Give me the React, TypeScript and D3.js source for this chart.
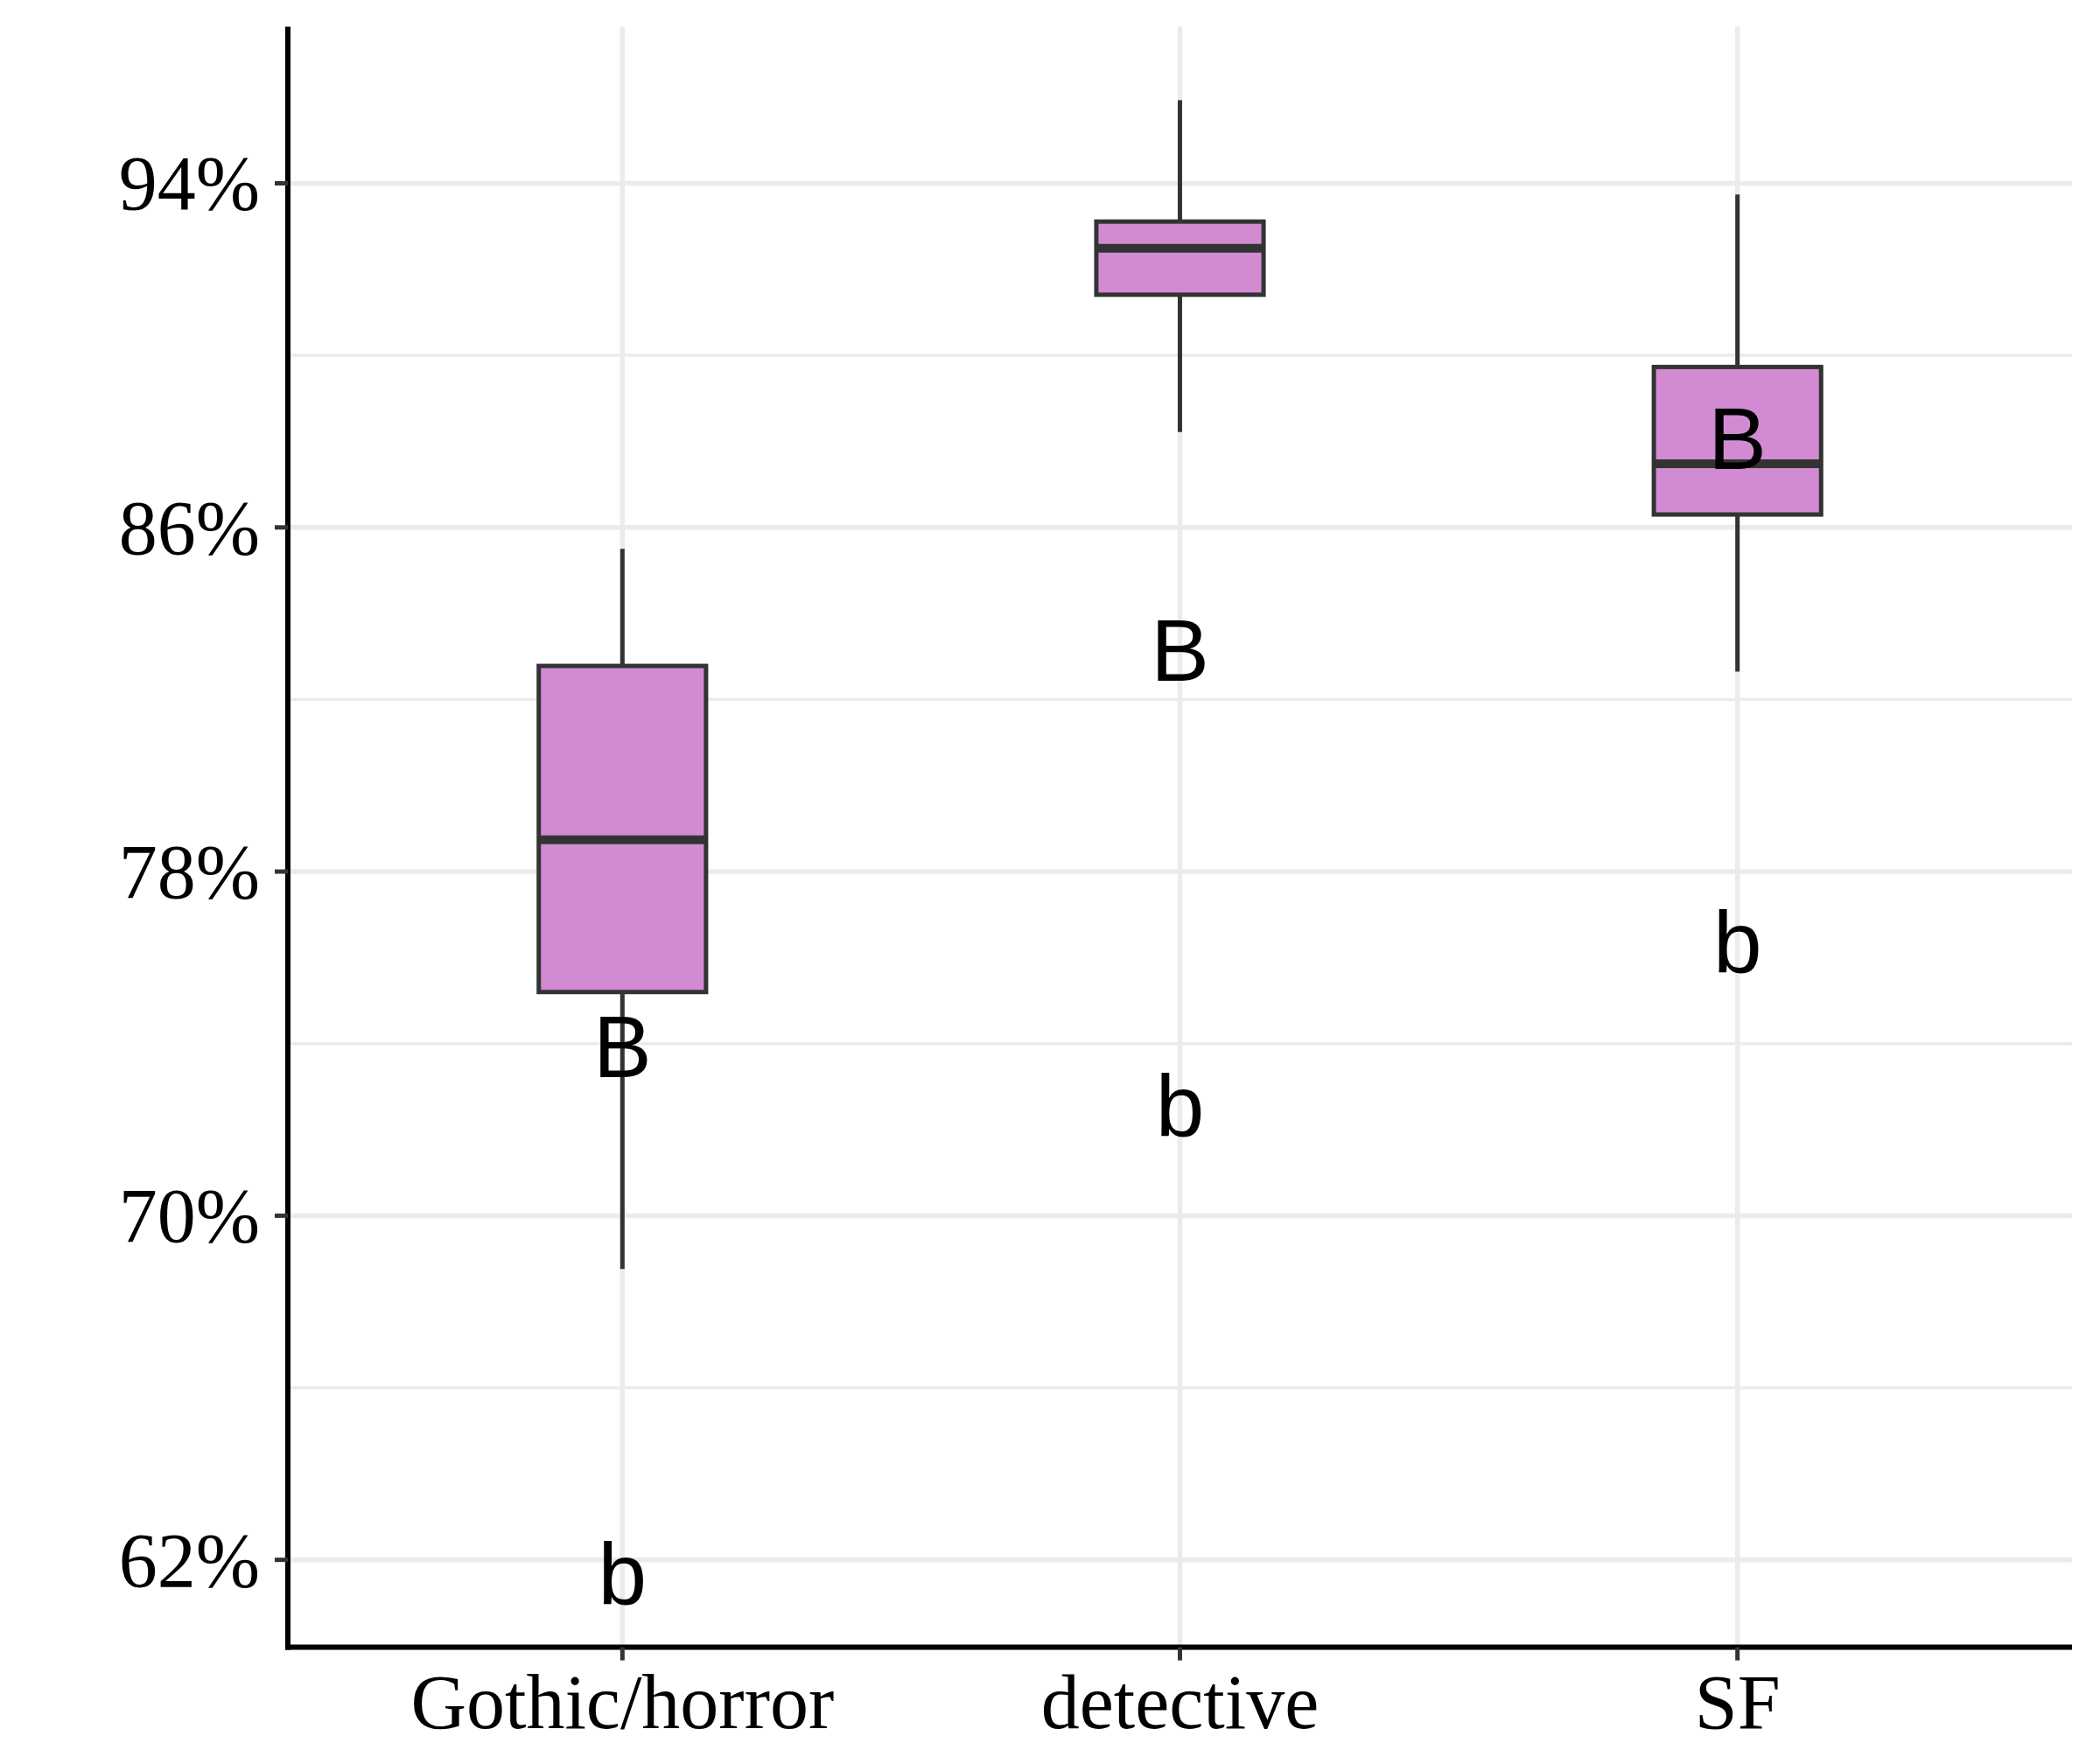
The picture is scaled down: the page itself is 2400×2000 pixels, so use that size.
import React from "react";
import * as d3 from "d3";

const categories = ["Gothic/horror", "detective", "SF"];
const whiskerLow = [68.76, 88.22, 82.65];
const q1 = [75.2, 91.41, 86.3];
const median = [78.74, 92.49, 87.48];
const q3 = [82.78, 93.11, 89.73];
const whiskerHigh = [85.5, 95.93, 93.74];
const upperLetter = ["B", "B", "B"];
const upperLetterY = [73.95, 83.17, 88.09];
const lowerLetter = ["b", "b", "b"];
const lowerLetterY = [61.68, 72.57, 76.37];
const majorTicks = [62, 70, 78, 86, 94];
const minorTicks = [66, 74, 82, 90];

const W = 2400;
const H = 2000;
const left = 329;
const right = 2368;
const top = 30.4;
const bottom = 1882.6;

export default function App() {
  const all = [...whiskerLow, ...whiskerHigh, ...upperLetterY, ...lowerLetterY];
  const [mn, mx] = d3.extent(all) as [number, number];
  const pad = (mx - mn) * 0.05;
  const y = d3.scaleLinear().domain([mn - pad, mx + pad]).range([bottom, top]);
  const x = d3.scalePoint<string>().domain(categories).range([left, right]).padding(0.6);
  const step = x.step();
  const bw = step * 0.3;
  const grid = "#EBEBEB";
  const dark = "#333333";
  const fill = "#D28BD2";
  const serif = "'Liberation Serif', 'DejaVu Serif', serif";
  const sans = "'Liberation Sans', Arial, sans-serif";
  const letterSize = 100;

  return (
    <svg width={W} height={H} style={{ position: "absolute", left: 0, top: 0, background: "#fff" }}>
      <rect x={0} y={0} width={W} height={H} fill="#fff" />
      {/* minor grid */}
      {minorTicks.map((t) => (
        <line key={"mn" + t} x1={left} x2={right} y1={y(t)} y2={y(t)} stroke={grid} strokeWidth={3.5} />
      ))}
      {/* major grid */}
      {majorTicks.map((t) => (
        <line key={"mj" + t} x1={left} x2={right} y1={y(t)} y2={y(t)} stroke={grid} strokeWidth={5.5} />
      ))}
      {categories.map((c) => (
        <line key={"vg" + c} x1={x(c)} x2={x(c)} y1={top} y2={bottom} stroke={grid} strokeWidth={5.5} />
      ))}
      {/* boxes */}
      {categories.map((c, i) => {
        const cx = x(c) as number;
        return (
          <g key={"box" + c}>
            <line x1={cx} x2={cx} y1={y(whiskerHigh[i])} y2={y(q3[i])} stroke={dark} strokeWidth={5} />
            <line x1={cx} x2={cx} y1={y(q1[i])} y2={y(whiskerLow[i])} stroke={dark} strokeWidth={5} />
            <rect
              x={cx - bw / 2}
              y={y(q3[i])}
              width={bw}
              height={y(q1[i]) - y(q3[i])}
              fill={fill}
              stroke={dark}
              strokeWidth={5}
            />
            <line x1={cx - bw / 2} x2={cx + bw / 2} y1={y(median[i])} y2={y(median[i])} stroke={dark} strokeWidth={10} />
          </g>
        );
      })}
      {/* letters */}
      {categories.map((c, i) => (
        <g key={"lt" + c} fontFamily={sans} fontSize={letterSize} fill="#000" textAnchor="middle">
          <text x={x(c)} y={y(upperLetterY[i]) + letterSize * 0.358}>{upperLetter[i]}</text>
          <text x={x(c)} y={y(lowerLetterY[i]) + letterSize * 0.36}>{lowerLetter[i]}</text>
        </g>
      ))}
      {/* axes */}
      <line x1={left} x2={left} y1={top} y2={bottom + 3} stroke="#000" strokeWidth={6} />
      <line x1={left - 3} x2={right} y1={bottom} y2={bottom} stroke="#000" strokeWidth={6} />
      {majorTicks.map((t) => (
        <g key={"yt" + t}>
          <line x1={left - 15} x2={left} y1={y(t)} y2={y(t)} stroke={dark} strokeWidth={5} />
          <text x={297} y={y(t) + 30} textAnchor="end" fontFamily={serif} fontSize={88} fill="#000">
            {t + "%"}
          </text>
        </g>
      ))}
      {categories.map((c) => (
        <g key={"xt" + c}>
          <line x1={x(c)} x2={x(c)} y1={bottom} y2={bottom + 15} stroke={dark} strokeWidth={5} />
          <text x={x(c)} y={1975} textAnchor="middle" fontFamily={serif} fontSize={88} fill="#000">
            {c}
          </text>
        </g>
      ))}
    </svg>
  );
}
